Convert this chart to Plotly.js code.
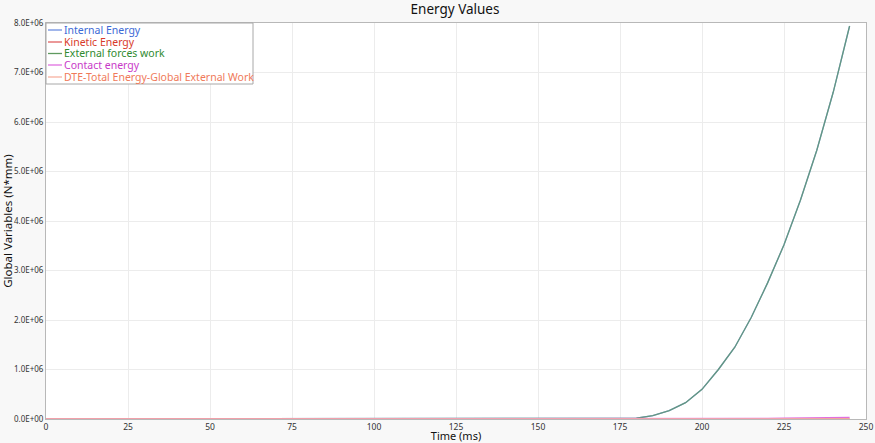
<!DOCTYPE html>
<html><head><meta charset="utf-8">
<script src="https://cdn.plot.ly/plotly-3.0.1.min.js"></script>
<style>html,body{margin:0;padding:0;background:#f8f8f8;}#chart{width:875px;height:443px;}</style>
</head><body><div id="chart"></div>
<script>
const timeMs = [0,5,10,15,20,25,30,35,40,45,50,55,60,65,70,75,80,85,90,95,100,105,110,115,120,125,130,135,140,145,150,155,160,165,170,175,180,185,190,195,200,205,210,215,220,225,230,235,240,245];
const internalEnergy = [0,0,0,0,0,0,0,0,0,0,0,0,0,0,0,0,0,0,0,0,0,0,0,0,0,0,0,0,0,0,0,0,0,0,0,0,1.5e4,7.0e4,1.7e5,3.3e5,6.0e5,1.0e6,1.45e6,2.05e6,2.75e6,3.52e6,4.42e6,5.43e6,6.6e6,7.94e6];
const kineticEnergy = [0,0,0,0,0,0,0,0,0,0,0,0,0,0,0,0,0,0,0,0,0,0,0,0,0,0,0,0,0,0,0,0,0,0,0,0,0,0,0,0,0,0,0,0,0,0,0,0,0,0];
const externalWork = [0,0,0,0,0,0,0,0,0,0,0,0,0,0,0,0,0,0,0,0,0,0,0,0,0,0,0,0,0,0,0,0,0,0,0,0,1.5e4,7.0e4,1.7e5,3.3e5,6.0e5,1.0e6,1.45e6,2.05e6,2.75e6,3.52e6,4.42e6,5.43e6,6.6e6,7.94e6];
const contactEnergy = [0,0,0,0,0,0,0,0,0,0,0,0,0,0,0,0,0,0,0,0,0,0,0,0,0,0,0,0,0,0,0,0,0,0,0,0,0,0,0,1.0e3,3.0e3,5.0e3,7.0e3,1.0e4,1.3e4,1.6e4,2.0e4,2.4e4,2.8e4,3.2e4];
const dteEnergy = [0,0,0,0,0,0,0,0,0,0,0,0,0,0,0,0,0,0,0,0,0,0,0,0,0,0,0,0,0,0,0,0,0,0,0,0,0,0,0,0,0,0,0,0,0,0,0,0,0,0];
const seriesNames = ["Internal Energy","Kinetic Energy","External forces work","Contact energy","DTE-Total Energy-Global External Work"];
const lineColors = ["#6f8fe0","#e06060","#5f9a5f","#e070e0","#f8b0a0"];
const textColors = ["#3c6ad6","#d83a2a","#2f8a2f","#c83ac8","#f07a5a"];
const xTicks = [0,25,50,75,100,125,150,175,200,225,250];
const yTickVals = [0,1e6,2e6,3e6,4e6,5e6,6e6,7e6,8e6];
const yTickText = ["0.0E+00","1.0E+06","2.0E+06","3.0E+06","4.0E+06","5.0E+06","6.0E+06","7.0E+06","8.0E+06"];

const allSeries = [internalEnergy, kineticEnergy, externalWork, contactEnergy, dteEnergy];
const order = [0,2,1,3,4];
const traces = order.map(i => ({
  x: timeMs, y: allSeries[i], type: 'scatter', mode: 'lines', name: seriesNames[i],
  line: {color: lineColors[i], width: 1.3}, opacity: i===2 ? 0.75 : 1
}));

const L = 46, R = 866, T = 23, B = 419;
const px = v => (v - L) / (R - L);
const py = v => (B - v) / (B - T);
const rowY = [30, 42, 53.5, 65, 77];
const shapes = [{type:'rect', xref:'paper', yref:'paper', x0:0, x1:px(253), y0:py(84), y1:1,
  line:{color:'#a8a8a8', width:1}, fillcolor:'#ffffff', layer:'above'}];
const annotations = [];
seriesNames.forEach((n, i) => {
  shapes.push({type:'line', xref:'paper', yref:'paper', x0:px(48), x1:px(62), y0:py(rowY[i]), y1:py(rowY[i]),
    line:{color:lineColors[i], width:1.3}, layer:'above'});
  annotations.push({xref:'paper', yref:'paper', x:px(63), y:py(rowY[i]), xanchor:'left', yanchor:'middle',
    text:n, showarrow:false, borderpad:0, font:{size:10.5, color:textColors[i], family:'Noto Sans'}});
});

const layout = {
  width: 875, height: 443,
  paper_bgcolor: '#f8f8f8', plot_bgcolor: '#ffffff',
  margin: {l: L, r: 875 - R, t: T, b: 443 - B},
  showlegend: false,
  font: {family: 'Noto Sans', color: '#222'},
  title: {text: 'Energy Values', x: 0.52, xanchor: 'center', y: 1 - 9.5/443, yanchor: 'middle', font: {size: 13.5, color: '#111'}},
  xaxis: {range: [0, 250], tickvals: xTicks, ticktext: xTicks.map(String), showgrid: true, gridcolor: '#ececec',
    zeroline: false, showline: true, linecolor: '#b8b8b8', mirror: true, ticks: '', ticklen: 0, tickfont: {size: 8.5, color: '#333'},
    title: {text: 'Time (ms)', font: {size: 11, color: '#111'}, standoff: 0}, automargin: false},
  yaxis: {range: [0, 8e6], tickvals: yTickVals, ticktext: yTickText, showgrid: true, gridcolor: '#ececec',
    zeroline: false, showline: true, linecolor: '#b8b8b8', mirror: true, ticks: '', ticklen: 0, tickfont: {size: 8, color: '#333'},
    title: {text: 'Global Variables (N*mm)', font: {size: 11.5, color: '#111'}, standoff: 2}, automargin: false},
  shapes: shapes, annotations: annotations
};
Plotly.newPlot('chart', traces, layout, {displayModeBar: false, staticPlot: true});
</script></body></html>
